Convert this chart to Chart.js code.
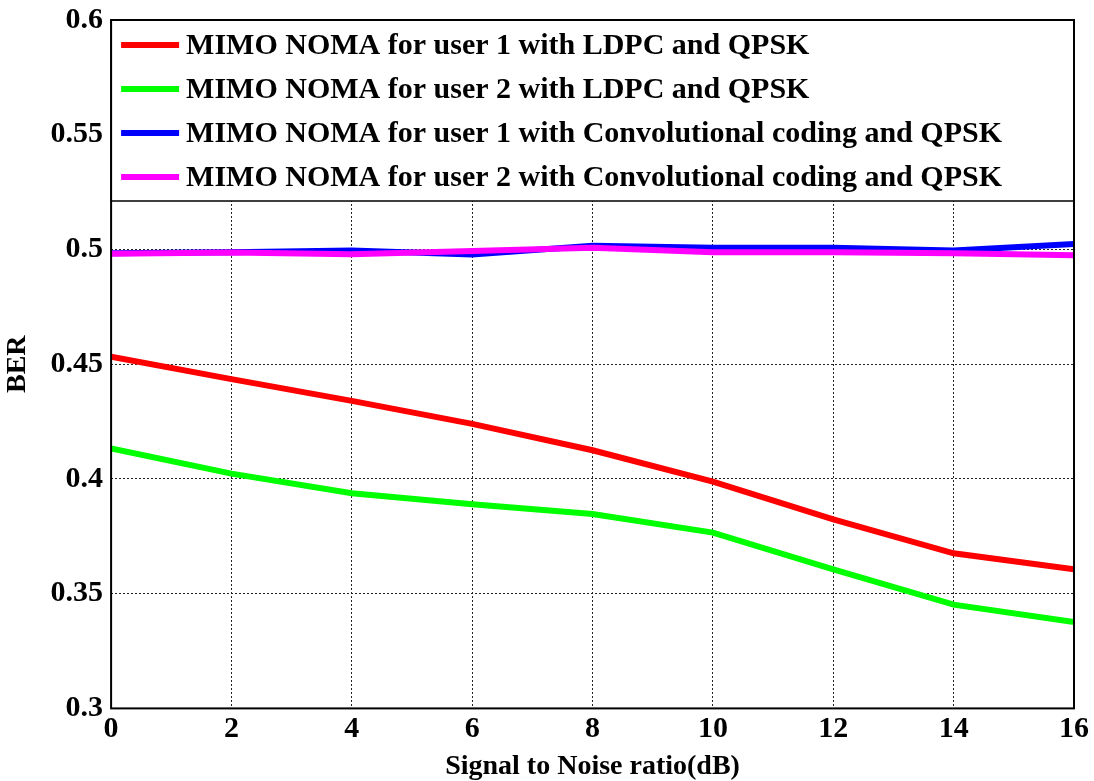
<!DOCTYPE html>
<html>
<head>
<meta charset="utf-8">
<script src="https://cdn.jsdelivr.net/npm/chart.js@4.4.1/dist/chart.umd.min.js"></script>
<style>
  html, body { margin: 0; padding: 0; background: #fff; overflow: hidden; }
  #wrap { width: 1094px; height: 781px; overflow: hidden; }
  #myChart { display: block; margin-top: -6px; }
</style>
</head>
<body>
<div id="wrap"><canvas id="myChart" width="1094" height="790"></canvas></div>
<script>
// SNR points (dB)
const snr = [0, 2, 4, 6, 8, 10, 12, 14, 16];

// BER
const berUser1Ldpc = [0.4533, 0.4435, 0.434, 0.4240, 0.4125, 0.3988, 0.3824, 0.3676, 0.3606];
const berUser2Ldpc = [0.4133, 0.4023, 0.3938, 0.3890, 0.3847, 0.3766, 0.3606, 0.3452, 0.3376];
const berUser1Conv = [0.4983, 0.4988, 0.4996, 0.4978, 0.5016, 0.5007, 0.5007, 0.4996, 0.5024];
const berUser2Conv = [0.4981, 0.4987, 0.4979, 0.4993, 0.5007, 0.4988, 0.4988, 0.4983, 0.4975];

const seriesNames = [
  'MIMO NOMA for user 1 with LDPC and QPSK',
  'MIMO NOMA for user 2 with LDPC and QPSK',
  'MIMO NOMA for user 1 with Convolutional coding and QPSK',
  'MIMO NOMA for user 2 with Convolutional coding and QPSK'
];
const seriesColors = ['#ff0000', '#00ff00', '#0000ff', '#ff00ff'];

const xTicks = [0, 2, 4, 6, 8, 10, 12, 14, 16];
const yTicks = [0.3, 0.35, 0.4, 0.45, 0.5, 0.55, 0.6];

const FONT = '"Liberation Serif", "Times New Roman", serif';

function pts(ys) {
  return snr.map((x, i) => ({ x: x, y: ys[i] }));
}

const allSeries = [berUser1Ldpc, berUser2Ldpc, berUser1Conv, berUser2Conv];
// magenta drawn last so it sits on top of blue
const datasets = allSeries.map((ys, i) => ({
  label: seriesNames[i],
  data: pts(ys),
  borderColor: seriesColors[i],
  backgroundColor: seriesColors[i],
  borderWidth: 6,
  pointRadius: 0,
  tension: 0,
  order: 4 - i
}));

// legend inside the axes (top) + the full box round the plot
const boxLegend = {
  id: 'boxLegend',
  afterDraw(chart) {
    const ctx = chart.ctx;
    const a = chart.chartArea;
    const legH = 181;
    ctx.save();
    ctx.fillStyle = '#fff';
    ctx.fillRect(a.left, a.top, a.right - a.left, legH);
    ctx.strokeStyle = '#000';
    ctx.lineWidth = 1.5;
    ctx.strokeRect(a.left, a.top, a.right - a.left, legH);
    ctx.font = 'bold 30px ' + FONT;
    ctx.textBaseline = 'middle';
    ctx.textAlign = 'left';
    for (let i = 0; i < seriesNames.length; i++) {
      const y = a.top + 25 + i * 44;
      ctx.strokeStyle = seriesColors[i];
      ctx.lineWidth = 6;
      ctx.beginPath();
      ctx.moveTo(a.left + 10, y);
      ctx.lineTo(a.left + 68, y);
      ctx.stroke();
      ctx.fillStyle = '#000';
      ctx.fillText(seriesNames[i], a.left + 75, y + 1);
    }
    ctx.strokeStyle = '#000';
    ctx.lineWidth = 2;
    ctx.strokeRect(a.left, a.top, a.right - a.left, a.bottom - a.top);
    ctx.restore();
  }
};

const config = {
  type: 'line',
  data: { datasets: datasets },
  options: {
    responsive: false,
    animation: false,
    layout: { padding: { left: 1, right: 20, top: 0, bottom: 0 } },
    plugins: {
      legend: { display: false },
      tooltip: { enabled: false }
    },
    scales: {
      x: {
        type: 'linear',
        min: 0,
        max: 16,
        afterBuildTicks: (axis) => { axis.ticks = xTicks.map(v => ({ value: v })); },
        grid: { color: '#222', lineWidth: 1, drawTicks: false },
        border: { display: false, dash: [2, 2] },
        ticks: {
          color: '#000',
          padding: 3,
          maxRotation: 0,
          font: { family: FONT, size: 30, weight: 'bold' }
        },
        title: {
          display: true,
          text: 'Signal to Noise ratio(dB)',
          color: '#000',
          padding: { top: 0, bottom: 0 },
          font: { family: FONT, size: 28, weight: 'bold' }
        }
      },
      y: {
        min: 0.3,
        max: 0.6,
        afterBuildTicks: (axis) => { axis.ticks = yTicks.map(v => ({ value: v })); },
        grid: { color: '#222', lineWidth: 1, drawTicks: false },
        border: { display: false, dash: [2, 2] },
        ticks: {
          color: '#000',
          padding: 8,
          font: { family: FONT, size: 30, weight: 'bold' },
          callback: (v) => String(parseFloat(Number(v).toFixed(2)))
        },
        title: {
          display: true,
          text: 'BER',
          color: '#000',
          padding: { top: 0, bottom: 8 },
          font: { family: FONT, size: 28, weight: 'bold' }
        }
      }
    }
  },
  plugins: [boxLegend]
};

const myChart = new Chart(document.getElementById('myChart'), config);
</script>
</body>
</html>
